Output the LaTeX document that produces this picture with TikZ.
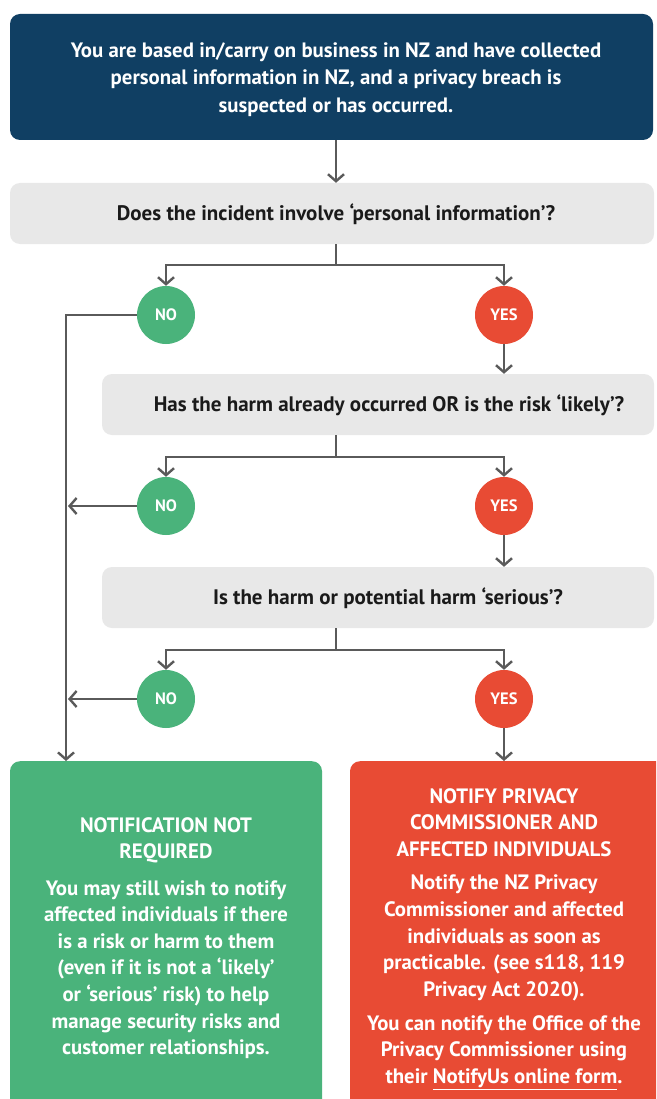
\documentclass[tikz,border=0pt]{standalone}
\usepackage{fontspec}
\setmainfont{PT Sans}
\usetikzlibrary{arrows.meta,calc}
\definecolor{navy}{HTML}{103F63}
\definecolor{qgrey}{HTML}{E8E8E8}
\definecolor{okgreen}{HTML}{4AB37B}
\definecolor{alertred}{HTML}{E84B34}
\definecolor{linegrey}{HTML}{5A5A5A}
\definecolor{qtext}{HTML}{1A1A1A}
\tikzset{
  conn/.style={draw=linegrey, line width=2.4pt},
  arr/.style={conn, -{Straight Barb[length=7pt,width=16pt]}},
  boxbase/.style={rectangle, rounded corners=10pt, inner sep=0pt},
  qbox/.style={boxbase, fill=qgrey, minimum height=61pt},
  qlabel/.style={text=qtext, font=\fontsize{21}{27}\selectfont\bfseries},
  wlabel/.style={text=white, font=\fontsize{20.8}{26.6}\selectfont\bfseries, align=center, inner sep=0pt},
  dot/.style={circle, minimum size=58pt, inner sep=0pt, text=white, font=\fontsize{16.5}{18}\selectfont\bfseries},
  nodot/.style={dot, fill=okgreen},
  yesdot/.style={dot, fill=alertred},
}
\begin{document}
\begin{tikzpicture}[x=1pt,y=-1pt]
\useasboundingbox (0,0) rectangle (656,1099);
\fill[white] (0,0) rectangle (656,1099);
\begin{scope}
\clip (0,0) rectangle (656,1099);
% top box
\node[boxbase, fill=navy, minimum width=643pt, minimum height=126pt] (top) at (331.5,77) {};
\node[wlabel, font=\fontsize{20.8}{27.5}\selectfont\bfseries] (toptxt) at (336,79.5) {You are based in/carry on business in NZ and have collected\\personal information in NZ, and a privacy breach is\\suspected or has occurred.};
% questions
\node[qbox, minimum width=644pt] (q1) at (332,213.5) {};
\node[qlabel] (q1t) at (336,214) {Does the incident involve ‘personal information’?};
\node[qbox, minimum width=552pt] (q2) at (378,404.5) {};
\node[qlabel] (q2t) at (389,405) {Has the harm already occurred OR is the risk ‘likely’?};
\node[qbox, minimum width=552pt] (q3) at (378,597.5) {};
\node[qlabel] (q3t) at (388,598) {Is the harm or potential harm ‘serious’?};
% circles
\node[nodot] (no1) at (166,315) {NO};
\node[yesdot] (yes1) at (504,315) {YES};
\node[nodot] (no2) at (166,506) {NO};
\node[yesdot] (yes2) at (504,506) {YES};
\node[nodot] (no3) at (166,699) {NO};
\node[yesdot] (yes3) at (504,699) {YES};
% outcome boxes
\node[boxbase, fill=okgreen, minimum width=312pt, minimum height=370pt, anchor=north] (nr) at (166,761) {};
\node[boxbase, fill=alertred, minimum width=316pt, minimum height=370pt, anchor=north] (nf) at (508,761) {};
\end{scope}
% outcome texts
\node[wlabel] (nrtitle) at (166,840.5) {NOTIFICATION NOT\\REQUIRED};
\node[wlabel] (nrbody) at (166,969.5) {You may still wish to notify\\affected individuals if there\\is a risk or harm to them\\(even if it is not a ‘likely’\\or ‘serious’ risk) to help\\manage security risks and\\customer relationships.};
\node[wlabel] (nftitle) at (504,822.5) {NOTIFY PRIVACY\\COMMISSIONER AND\\AFFECTED INDIVIDUALS};
\node[wlabel] (nfbody) at (504,938) {Notify the NZ Privacy\\Commissioner and affected\\individuals as soon as\\practicable. (see s118, 119\\Privacy Act 2020).};
\node[wlabel] (nfform) at (504,1052.5) {You can notify the Office of the\\Privacy Commissioner using\\their \underline{NotifyUs online form}.};
% junction and left rail coordinates
\coordinate (j1) at (336,265);
\coordinate (j2) at (336,457);
\coordinate (j3) at (336,650);
\coordinate (rail) at (66,0);
% connectors
\draw[arr] (top.south -| j1) -- (q1.north -| j1);
\draw[conn] (q1.south -| j1) -- (j1);
\draw[arr] (j1) -| (no1.north);
\draw[arr] (j1) -| (yes1.north);
\draw[arr] (yes1.south) -- (yes1.south |- q2.north);
\draw[conn] (q2.south -| j2) -- (j2);
\draw[arr] (j2) -| (no2.north);
\draw[arr] (j2) -| (yes2.north);
\draw[arr] (yes2.south) -- (yes2.south |- q3.north);
\draw[conn] (q3.south -| j3) -- (j3);
\draw[arr] (j3) -| (no3.north);
\draw[arr] (j3) -| (yes3.north);
\draw[arr] (yes3.south) -- (yes3.south |- nf.north);
\draw[arr] (no1.west) -| (nr.north -| rail);
\draw[arr, shorten >=2pt] (no2.west) -- (no2.west -| rail);
\draw[arr, shorten >=2pt] (no3.west) -- (no3.west -| rail);
\end{tikzpicture}
\end{document}
